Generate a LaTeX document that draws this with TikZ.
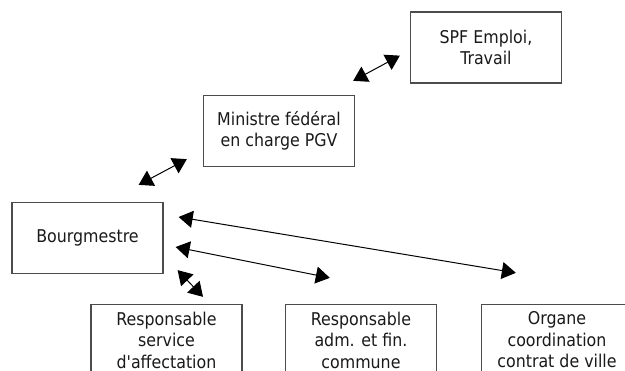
\documentclass[tikz,border=0pt]{standalone}
\usepackage{fontspec}
\setmainfont{DejaVu Sans Condensed}
\usetikzlibrary{arrows.meta, positioning, calc}

\begin{document}
\begin{tikzpicture}[
		x=1pt, y=-1pt,
		font=\fontsize{17.6}{21.5}\selectfont,
		arrow/.style={{Triangle[length=14pt,width=17pt]}-{Triangle[length=14pt,width=17pt]}, line width=1pt},
		box/.style={rectangle, draw=black!70, line width=1.3pt, minimum width=151pt, minimum height=71pt, align=center, inner sep=2pt, text=black!90}
		]
		
		% Page frame
		\useasboundingbox (0,0) rectangle (625,371);
		\clip (0,0) rectangle (625,371);
		
		% Boxes
		\node[box] (spf) at (486,47.5) {SPF Emploi,\\Travail};
		\node[box] (ministre) at (279,131) {Ministre fédéral\\en charge PGV};
		\node[box] (bourg) at (87.5,238) {Bourgmestre};
		\node[box] (serv) at (166.5,340) {Responsable\\service\\d\textquotesingle affectation};
		\node[box] (adm) at (361,340) {Responsable\\adm. et fin.\\commune};
		\node[box] (organe) at (557,340) {Organe\\coordination\\contrat de ville};
		
		% Arrow ends
		\coordinate (m1) at ($(ministre.north east)+(-2,-14)$);
		\coordinate (s1) at ($(spf.south west)+(-10,-28)$);
		\coordinate (b1) at ($(bourg.north east)+(-25,-17)$);
		\coordinate (m2) at ($(ministre.south west)+(-16,-8)$);
		\coordinate (b2) at ($(bourg.south east)+(14,-4)$);
		\coordinate (v1) at ($(serv.north)+(36.5,-7)$);
		\coordinate (b3) at ($(bourg.east)+(12,9)$);
		\coordinate (a1) at ($(adm.north west)+(45,-26)$);
		\coordinate (b4) at ($(bourg.east)+(15,-21)$);
		\coordinate (o1) at ($(organe.north west)+(35,-31)$);
		
		% Arrows
		\draw[arrow] (m1) -- (s1);
		\draw[arrow] (b1) -- (m2);
		\draw[arrow] (b2) -- (v1);
		\draw[arrow] (b3) -- (a1);
		\draw[arrow] (b4) -- (o1);
	\end{tikzpicture}
\end{document}
